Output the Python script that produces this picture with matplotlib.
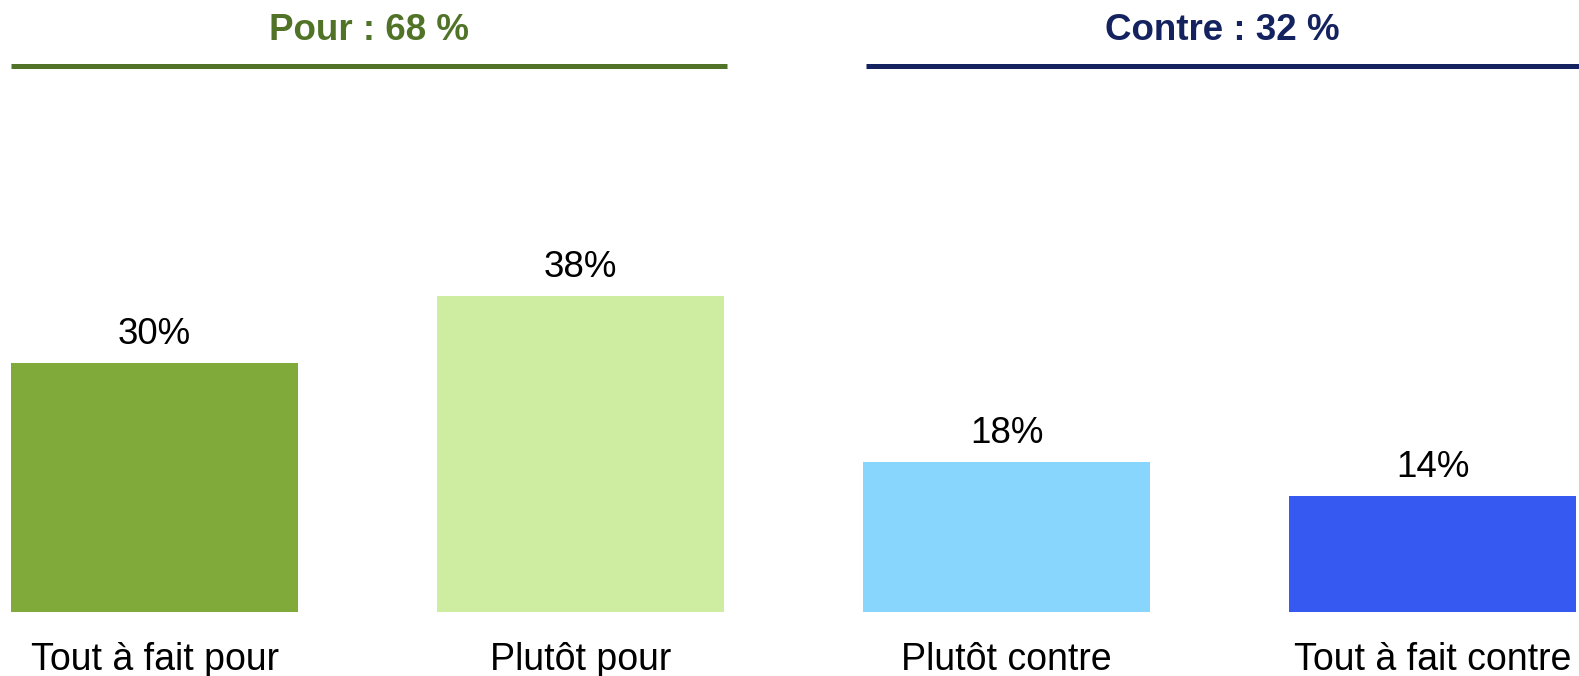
import matplotlib.pyplot as plt
from matplotlib import font_manager
from matplotlib.lines import Line2D

categories = ["Tout à fait pour", "Plutôt pour", "Plutôt contre", "Tout à fait contre"]
values = [30, 38, 18, 14]
bar_colors = ["#80AA3A", "#CFEDA1", "#88D5FE", "#3659F1"]
groups = ["Pour : 68 %", "Contre : 32 %"]
group_colors = ["#507328", "#14235F"]

W, H = 1579, 676
names = {f.name for f in font_manager.fontManager.ttflist}
body_font = "Liberation Sans" if "Liberation Sans" in names else "DejaVu Sans"
head_font = "Liberation Sans Narrow" if "Liberation Sans Narrow" in names else body_font

fig = plt.figure(figsize=(W / 100, H / 100), dpi=100)

# axes placed so that bars land where the reference has them
px_unit = 426.0
x0 = -0.337 - 11 / px_unit
ax = fig.add_axes([0, (H - 612) / H, 1, 60 * 8.31 / H])
ax.set_xlim(x0, x0 + W / px_unit)
ax.set_ylim(0, 60)

bars = ax.bar(range(len(values)), values, width=0.674, color=bar_colors)
ax.bar_label(bars, labels=[f"{v}%" for v in values], padding=8,
             fontsize=26.5, family=body_font, color="black")

for i, cat in enumerate(categories):
    ax.annotate(cat, xy=(i, 0), xycoords=("data", "axes fraction"),
                xytext=(0, -34.5), textcoords="offset points",
                ha="center", va="center", fontsize=27, family=body_font)

ax.axis("off")

# group headers with underline
spans = [(11, 727), (866, 1579)]
for (a, b), label, col in zip(spans, groups, group_colors):
    fig.add_artist(Line2D([a / W, b / W], [1 - 66 / H, 1 - 66 / H],
                          color=col, linewidth=3.6, solid_capstyle="butt"))
    fig.text((a + b) / 2 / W, 1 - 30 / H, label, ha="center", va="center",
             fontsize=26.5, fontweight="bold", color=col, family=head_font)

fig.savefig("out.png", dpi=100)
